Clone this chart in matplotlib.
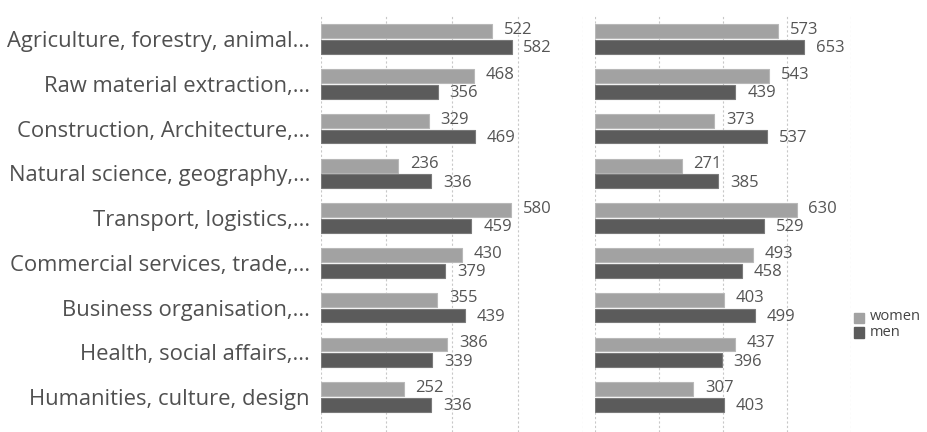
import numpy as np
import matplotlib.pyplot as plt

categories = ["Agriculture, forestry, animal...",
              "Raw material extraction,...",
              "Construction, Architecture,...",
              "Natural science, geography,...",
              "Transport, logistics,...",
              "Commercial services, trade,...",
              "Business organisation,...",
              "Health, social affairs,...",
              "Humanities, culture, design"]

left_women = [522, 468, 329, 236, 580, 430, 355, 386, 252]
left_men = [582, 356, 469, 336, 459, 379, 439, 339, 336]
right_women = [573, 543, 373, 271, 630, 493, 403, 437, 307]
right_men = [653, 439, 537, 385, 529, 458, 499, 396, 403]

c_women = "#a2a2a2"
c_men = "#5b5b5b"

plt.rcParams['font.family'] = ['Open Sans', 'DejaVu Sans']

fig = plt.figure(figsize=(9.28, 4.32), dpi=100)
W, H = 928, 432
ax1 = fig.add_axes([321 / W, 0, (583 - 321) / W, 1 - 16 / H])
ax2 = fig.add_axes([595 / W, 0, (851 - 595) / W, 1 - 16 / H])

y = np.arange(len(categories))
off = 0.175
bh = 0.31

for ax, w, m in [(ax1, left_women, left_men), (ax2, right_women, right_men)]:
    ax.barh(y - off, w, height=bh, color=c_women, edgecolor="#b8b8b8", linewidth=0.8, zorder=3)
    ax.barh(y + off, m, height=bh, color=c_men, edgecolor="#7a7a7a", linewidth=0.8, zorder=3)
    for i in range(len(y)):
        ax.annotate(str(w[i]), (w[i], y[i] - off - 0.03), xytext=(8.5, 0), textcoords="offset points",
                    va="center", ha="left", fontsize=12, color="#555555")
        ax.annotate(str(m[i]), (m[i], y[i] + off + 0.03), xytext=(8.5, 0), textcoords="offset points",
                    va="center", ha="left", fontsize=12, color="#555555")
    ax.set_xlim(0, 800)
    ax.set_ylim(8.78, -0.52)
    ax.set_xticks([0, 200, 400, 600, 800])
    ax.grid(axis="x", color="#c8c8c8", linestyle=(0, (2, 2)), linewidth=0.8, zorder=0)
    ax.tick_params(length=0, labelbottom=False)
    for s in ax.spines.values():
        s.set_visible(False)

ax1.set_yticks(y)
ax1.set_yticklabels(categories, fontsize=15.8, color="#505050")
ax1.tick_params(axis="y", pad=8)
ax2.set_yticks([])

# legend
fig.patches.append(plt.Rectangle((854 / W, 1 - 323 / H), 10 / W, 10 / H, color=c_women, transform=fig.transFigure))
fig.patches.append(plt.Rectangle((854 / W, 1 - 338 / H), 10 / W, 11 / H, color=c_men, transform=fig.transFigure))
fig.text(870 / W, 1 - 317 / H, "women", fontsize=10.5, color="#444444", va="center")
fig.text(870 / W, 1 - 333 / H, "men", fontsize=10.5, color="#444444", va="center")

fig.savefig("out.png", dpi=100)
